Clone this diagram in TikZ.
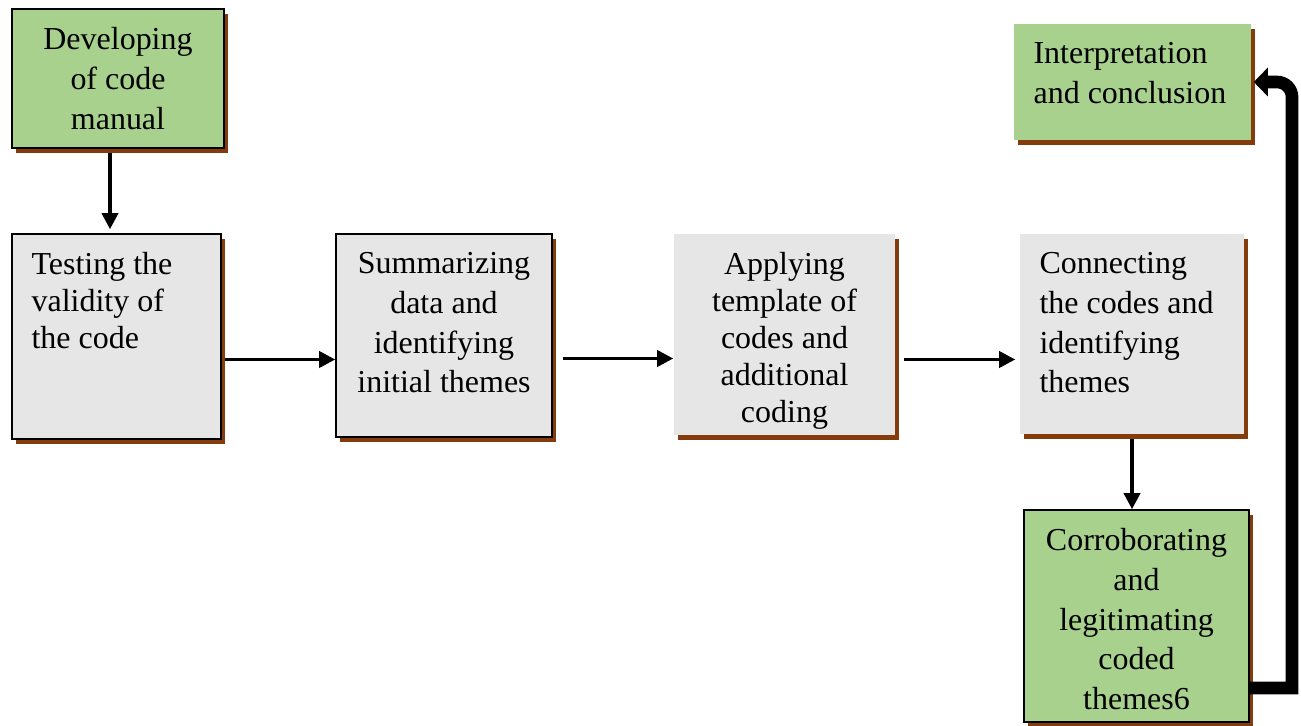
\documentclass[tikz,border=0pt]{standalone}
\usepackage{fontspec}
\setmainfont{Liberation Serif}
\usetikzlibrary{arrows.meta,positioning,shadows}
\definecolor{boxgreen}{HTML}{A9D18E}
\definecolor{boxgray}{HTML}{E7E6E6}
\definecolor{shadebrown}{HTML}{843C0C}
\tikzset{
  box/.style={rectangle, inner sep=0pt, line width=0.9pt, general shadow={fill=shadebrown, shadow xshift=0.08cm, shadow yshift=-0.1cm}},
  boxg/.style={box, fill=boxgreen, draw=black},
  boxgn/.style={box, fill=boxgreen},
  boxy/.style={box, fill=boxgray, draw=black},
  boxyn/.style={box, fill=boxgray},
  txt/.style={inner sep=0pt, align=center, font=\fontsize{18.2}{22.6}\selectfont},
  txtt/.style={txt, font=\fontsize{18.2}{21}\selectfont},
  txtl/.style={txt, align=left},
  txtlt/.style={txtt, align=left},
  ar/.style={-{Triangle[length=0.32cm, width=0.32cm]}, line width=2pt},
  bigar/.style={-{Triangle[length=0.28cm, width=0.56cm]}, line width=7.2pt},
}
\begin{document}
\begin{tikzpicture}[x=0.02cm, y=-0.02cm]
    \useasboundingbox (0,0) rectangle (1301,726);

    % stages
    \node[boxg, minimum width=4.24cm, minimum height=2.78cm] (dev) at (118,78.5) {};
    \node[boxy, minimum width=4.18cm, minimum height=4.10cm] (test) at (116.5,336.5) {};
    \node[boxy, minimum width=4.32cm, minimum height=4.06cm] (summ) at (444,335.5) {};
    \node[boxyn, minimum width=4.42cm, minimum height=4.02cm] (appl) at (784.5,334.5) {};
    \node[boxyn, minimum width=4.48cm, minimum height=4.00cm] (conn) at (1132,334) {};
    \node[boxg, minimum width=4.50cm, minimum height=4.24cm] (corr) at (1136.5,616) {};
    \node[boxgn, minimum width=4.74cm, minimum height=2.32cm] (interp) at (1132.5,82) {};

    % texts
    \node[txt, below=0.38cm of dev.north] (devtxt) {Developing\\of code\\manual};
    \node[txtlt, below right=0.38cm and 0.4cm of test.north west] (testtxt) {Testing the\\validity of\\the code};
    \node[txt, below=0.38cm of summ.north] (summtxt) {Summarizing\\data and\\identifying\\initial themes};
    \node[txtt, below=0.38cm of appl.north] (appltxt) {Applying\\template of\\codes and\\additional\\coding};
    \node[txtl, below right=0.38cm and 0.4cm of conn.north west] (conntxt) {Connecting\\the codes and\\identifying\\themes};
    \node[txt, below=0.38cm of corr.north] (corrtxt) {Corroborating\\and\\legitimating\\coded\\themes6};
    \node[txtl, below right=0.38cm and 0.4cm of interp.north west] (interptxt) {Interpretation\\and conclusion};

    % arrows
    \draw[ar] ([xshift=-0.16cm, yshift=-0.08cm]dev.south) -- ([xshift=-0.16cm, yshift=0.08cm]dev.south |- test.north);
    \draw[ar] ([xshift=0.06cm, yshift=-0.46cm]test.east) -- ([yshift=-0.46cm]test.east -| summ.west);
    \draw[ar] ([xshift=0.2cm, yshift=-0.46cm]summ.east) -- ([yshift=-0.46cm]summ.east -| appl.west);
    \draw[ar] ([xshift=0.16cm, yshift=-0.5cm]appl.east) -- ([xshift=-0.08cm, yshift=-0.5cm]appl.east -| conn.west);
    \draw[ar] ([yshift=-0.08cm]conn.south) -- (conn.south |- corr.north);

    \coordinate (back) at (1292,688);
    \draw[bigar] (corr.east |- back) -- (back) [rounded corners=0.3cm] -- (back |- interp.east) -- ([xshift=0.04cm]interp.east);
\end{tikzpicture}
\end{document}
